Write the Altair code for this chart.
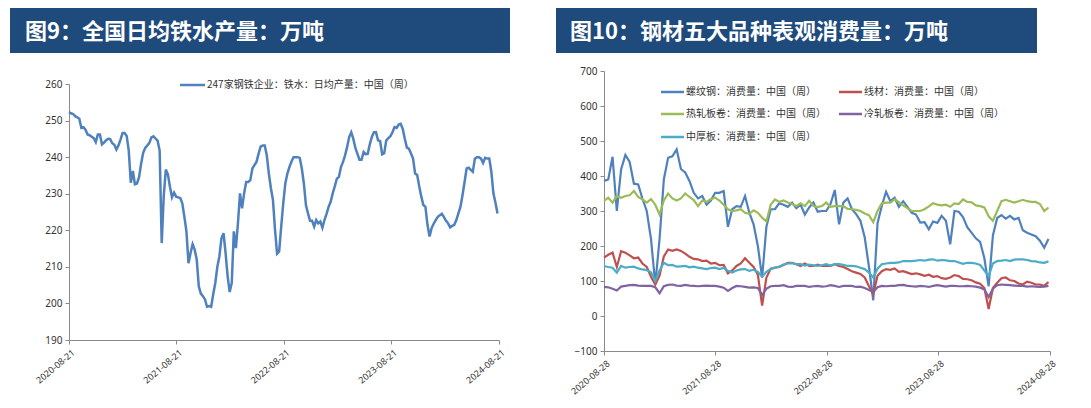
import altair as alt
import pandas as pd

# ---------------- data: left chart (weekly, from 2020-08-21) ----------------
iron_start = "2020-08-21"
iron_label = "247家钢铁企业：铁水：日均产量：中国（周）"
iron_values = [
    252.3, 252.0, 251.8, 251.2, 250.9, 250.5, 248.0, 248.2, 247.5, 246.2,
    246.0, 245.6, 245.2, 244.1, 246.2, 246.2, 243.5, 244.0, 244.6, 245.0,
    244.9, 243.8, 243.4, 242.1, 243.2, 244.8, 246.6, 246.6, 245.8, 241.8,
    233.0, 236.2, 232.6, 232.8, 234.5, 238.2, 241.2, 242.5, 243.2, 243.9,
    245.4, 245.7, 245.1, 244.5, 241.8, 216.5, 229.5, 236.6, 235.3, 231.9,
    229.0, 230.3, 229.2, 229.0, 228.8, 227.4, 223.7, 219.7, 211.0, 213.8,
    216.2, 214.7, 212.0, 204.7, 202.7, 202.0, 201.1, 199.1, 199.3, 199.1,
    202.5, 205.6, 210.0, 212.9, 217.8, 219.2, 213.8, 207.4, 203.1, 205.6,
    219.7, 215.1, 221.9, 230.1, 226.0, 230.1, 233.2, 233.2, 233.7, 236.9,
    237.8, 238.7, 240.9, 242.9, 243.2, 243.2, 240.5, 235.5, 231.5, 228.3,
    220.1, 213.6, 214.2, 221.0, 227.4, 232.8, 235.5, 237.3, 238.8, 240.0,
    240.0, 240.0, 239.8, 236.9, 232.8, 226.9, 224.6, 222.6, 222.6, 221.0,
    222.8, 221.9, 222.4, 220.7, 222.8, 224.5, 226.4, 227.8, 230.1, 232.0,
    234.1, 234.6, 237.3, 238.7, 240.5, 242.8, 245.5, 246.8, 245.0, 242.5,
    240.9, 239.3, 239.3, 241.4, 240.8, 240.9, 243.5, 245.5, 246.8, 246.8,
    244.6, 244.4, 240.8, 241.1, 244.6, 245.2, 245.7, 246.8, 248.2, 248.0,
    248.9, 249.1, 247.7, 245.0, 242.6, 242.3, 241.0, 239.6, 235.5, 235.1,
    232.0, 229.2, 226.9, 226.4, 221.5, 218.3, 220.6, 221.8, 222.8, 223.7,
    224.1, 224.5, 223.6, 222.6, 221.9, 220.8, 221.2, 221.5, 222.8, 224.6,
    226.4, 229.6, 233.2, 236.9, 237.1, 236.5, 236.0, 239.6, 240.0, 240.0,
    239.6, 238.4, 239.8, 239.6, 239.6, 236.0, 230.1, 227.5, 224.6,
]
iron_ticks = ["2020-08-21", "2021-08-21", "2022-08-21", "2023-08-21", "2024-08-21"]
iron_yticks = [190, 200, 210, 220, 230, 240, 250, 260]

# ---------------- data: right chart (every two weeks, from 2020-08-28) ----------------
cons_start = "2020-08-28"
rebar = [
    386, 390, 455, 300, 419, 460, 440, 378, 376, 335,
    300, 220, 90, 220, 390, 452, 456, 476, 420, 410,
    386, 352, 336, 343, 318, 330, 352, 352, 357, 255,
    305, 314, 312, 343, 295, 262, 200, 110, 255, 305,
    305, 322, 318, 312, 324, 308, 318, 290, 310, 324,
    298, 300, 300, 320, 360, 262, 324, 336, 305, 291,
    272, 225, 140, 45, 265, 315, 355, 328, 338, 312,
    328, 312, 295, 290, 267, 268, 248, 270, 266, 286,
    272, 205, 300, 298, 283, 254, 238, 222, 212, 165,
    85, 230, 280, 288, 278, 286, 276, 280, 245, 238,
    233, 228, 215, 195, 220,
]
wire = [
    167, 175, 181, 140, 185, 181, 173, 165, 167, 150,
    140, 112, 90, 115, 170, 190, 186, 190, 186, 178,
    169, 163, 162, 157, 158, 150, 152, 145, 146, 122,
    130, 143, 150, 165, 152, 140, 118, 30, 110, 135,
    138, 140, 146, 152, 152, 148, 143, 150, 143, 143,
    147, 143, 143, 143, 148, 143, 140, 134, 128, 124,
    120, 110, 85, 62, 115, 128, 134, 132, 136, 126,
    128, 124, 120, 122, 119, 115, 118, 112, 114, 108,
    106, 110, 117, 114, 106, 105, 102, 96, 92, 80,
    20, 80, 95, 108, 110, 102, 100, 93, 90, 98,
    95, 90, 90, 86, 97,
]
hrc = [
    329, 338, 324, 343, 338, 343, 345, 357, 340, 333,
    324, 334, 318, 290, 330, 350, 336, 330, 336, 350,
    340, 331, 314, 330, 326, 334, 338, 330, 318, 305,
    300, 302, 305, 295, 292, 302, 295, 281, 270, 318,
    333, 326, 330, 324, 320, 314, 322, 314, 329, 314,
    311, 314, 324, 312, 314, 314, 314, 306, 305, 303,
    300, 293, 288, 268, 300, 322, 324, 324, 333, 325,
    316, 308, 300, 300, 300, 305, 313, 322, 318, 316,
    318, 312, 322, 320, 333, 326, 325, 316, 314, 310,
    285, 272, 300, 328, 332, 328, 324, 328, 332, 328,
    326, 326, 320, 300, 310,
]
crc = [
    83, 82, 78, 73, 84, 86, 88, 89, 87, 86,
    86, 86, 82, 65, 85, 89, 90, 87, 86, 89,
    87, 86, 85, 86, 87, 86, 86, 84, 81, 72,
    80, 86, 85, 83, 81, 82, 80, 60, 78, 85,
    86, 86, 88, 84, 83, 86, 86, 86, 83, 85,
    86, 84, 85, 88, 86, 83, 86, 86, 86, 83,
    84, 80, 74, 68, 82, 86, 85, 86, 86, 88,
    89, 86, 85, 84, 86, 85, 83, 86, 88, 86,
    84, 86, 86, 85, 85, 86, 85, 84, 81, 76,
    54, 78, 88, 90, 89, 88, 87, 86, 86, 84,
    85, 84, 83, 84, 86,
]
plate = [
    143, 140, 138, 124, 143, 138, 140, 141, 136, 133,
    131, 125, 100, 130, 152, 145, 146, 141, 142, 143,
    139, 141, 138, 136, 134, 137, 138, 134, 137, 129,
    124, 130, 133, 134, 129, 132, 126, 112, 126, 134,
    138, 141, 147, 150, 151, 148, 148, 144, 147, 145,
    143, 145, 148, 144, 148, 148, 146, 143, 143, 142,
    138, 134, 124, 110, 135, 148, 150, 152, 152, 153,
    157, 157, 157, 158, 160, 158, 161, 162, 158, 160,
    159, 157, 157, 153, 149, 152, 152, 150, 146, 130,
    114, 150, 157, 158, 160, 157, 161, 162, 162, 160,
    157, 156, 153, 152, 156,
]
series_names = [
    "螺纹钢：消费量：中国（周）",
    "线材：消费量：中国（周）",
    "热轧板卷：消费量：中国（周）",
    "冷轧板卷：消费量：中国（周）",
    "中厚板：消费量：中国（周）",
]
series_values = [rebar, wire, hrc, crc, plate]
series_colors = ["#4F81BD", "#C0504D", "#9BBB59", "#8064A2", "#4BACC6"]
cons_ticks = ["2020-08-28", "2021-08-28", "2022-08-28", "2023-08-28", "2024-08-28"]
cons_yticks = [-100, 0, 100, 200, 300, 400, 500, 600, 700]

title_left = "图9：全国日均铁水产量：万吨"
title_right = "图10：钢材五大品种表观消费量：万吨"

assert len(iron_values) == 209
for s in series_values:
    assert len(s) == 105, len(s)

# ---------------- styling ----------------
FONT_CJK = "Noto Sans CJK SC"
FONT_NUM = "Noto Sans"
HEADER_BG = "#1F4A7C"
HEADER_TOP = -63
LW, LH, LTOP = 430, 269, 13      # left plot: 260 sits 13px below the panel top
RW, RH = 446, 280


def dt(s):
    y, m, d = (int(p) for p in s.split("-"))
    return alt.DateTime(year=y, month=m, date=d)


def header(text, left, right, textx):
    df = pd.DataFrame({"t": [text]})
    base = alt.Chart(df)
    rect = base.mark_rect(color=HEADER_BG).encode(
        x=alt.value(left), x2=alt.value(right),
        y=alt.value(HEADER_TOP), y2=alt.value(HEADER_TOP + 45)
    )
    txt = base.mark_text(
        align="left", baseline="middle", font=FONT_CJK, fontSize=22,
        fontWeight="bold", color="white"
    ).encode(x=alt.value(textx), y=alt.value(HEADER_TOP + 24), text="t:N")
    return [rect, txt]


def x_axis(ticks):
    return alt.Axis(
        values=[dt(t) for t in ticks], format="%Y-%m-%d", labelAngle=-40,
        labelAlign="right", labelBaseline="middle", labelPadding=7, labelOffset=4,
        title=None, labelFontSize=9,
    )


# ---------------- left panel ----------------
iron_df = pd.DataFrame({
    "date": pd.date_range(iron_start, periods=len(iron_values), freq="7D"),
    "value": iron_values,
})
left_line = alt.Chart(iron_df).mark_line(color="#4F81BD", strokeWidth=2.5).encode(
    x=alt.X("date:T", scale=alt.Scale(domain=[dt(iron_ticks[0]), dt(iron_ticks[-1])]),
            axis=x_axis(iron_ticks)),
    y=alt.Y("value:Q",
            scale=alt.Scale(domain=[iron_yticks[0], iron_yticks[-1]], nice=False, zero=False,
                            range=[LH, LTOP]),
            axis=alt.Axis(values=iron_yticks, title=None)),
)
leg_df = pd.DataFrame({"t": [iron_label]})
left_leg_line = alt.Chart(leg_df).mark_rule(color="#4F81BD", strokeWidth=2.5).encode(
    x=alt.value(111), x2=alt.value(136), y=alt.value(LTOP + 1)
)
left_leg_text = alt.Chart(leg_df).mark_text(
    align="left", baseline="middle", font=FONT_CJK, fontSize=10, color="#333333"
).encode(x=alt.value(138), y=alt.value(LTOP + 1), text="t:N")
left_panel = alt.layer(
    left_line, left_leg_line, left_leg_text, *header(title_left, -59, 441, -44)
).properties(width=LW, height=LH)

# ---------------- right panel ----------------
cons_dates = pd.date_range(cons_start, periods=len(rebar), freq="14D")
layers = []
for i, (name, vals, col) in enumerate(zip(series_names, series_values, series_colors)):
    df = pd.DataFrame({"date": cons_dates, "value": vals, "series": name})
    layers.append(
        alt.Chart(df).mark_line(color=col, strokeWidth=2.2).encode(
            x=alt.X("date:T", scale=alt.Scale(domain=[dt(cons_ticks[0]), dt(cons_ticks[-1])]),
                    axis=x_axis(cons_ticks)),
            y=alt.Y("value:Q", scale=alt.Scale(domain=[cons_yticks[0], cons_yticks[-1]], nice=False, zero=False),
                    axis=alt.Axis(values=cons_yticks, title=None)),
        )
    )
for i, (name, col) in enumerate(zip(series_names, series_colors)):
    cx = 57 + 178 * (i % 2)
    cy = [21, 43, 66][i // 2]
    ldf = pd.DataFrame({"t": [name]})
    layers.append(alt.Chart(ldf).mark_rule(color=col, strokeWidth=2.5).encode(
        x=alt.value(cx), x2=alt.value(cx + 23), y=alt.value(cy)))
    layers.append(alt.Chart(ldf).mark_text(
        align="left", baseline="middle", font=FONT_CJK, fontSize=10, color="#333333"
    ).encode(x=alt.value(cx + 25), y=alt.value(cy), text="t:N"))
right_panel = alt.layer(
    *layers, *header(title_right, -48, 433, -34)
).properties(width=RW, height=RH)

chart = alt.hconcat(
    left_panel, right_panel, spacing=46,
    padding={"left": 2, "top": 0, "right": 0, "bottom": 0},
).configure_view(stroke=None).configure_axis(
    grid=False, domainColor="#8A8A8A", tickColor="#8A8A8A", labelColor="#333333",
    labelFont=FONT_NUM, labelFontSize=10, tickSize=4, labelPadding=3,
)

chart.save("out.html", embed_options={"renderer": "svg", "actions": False})
